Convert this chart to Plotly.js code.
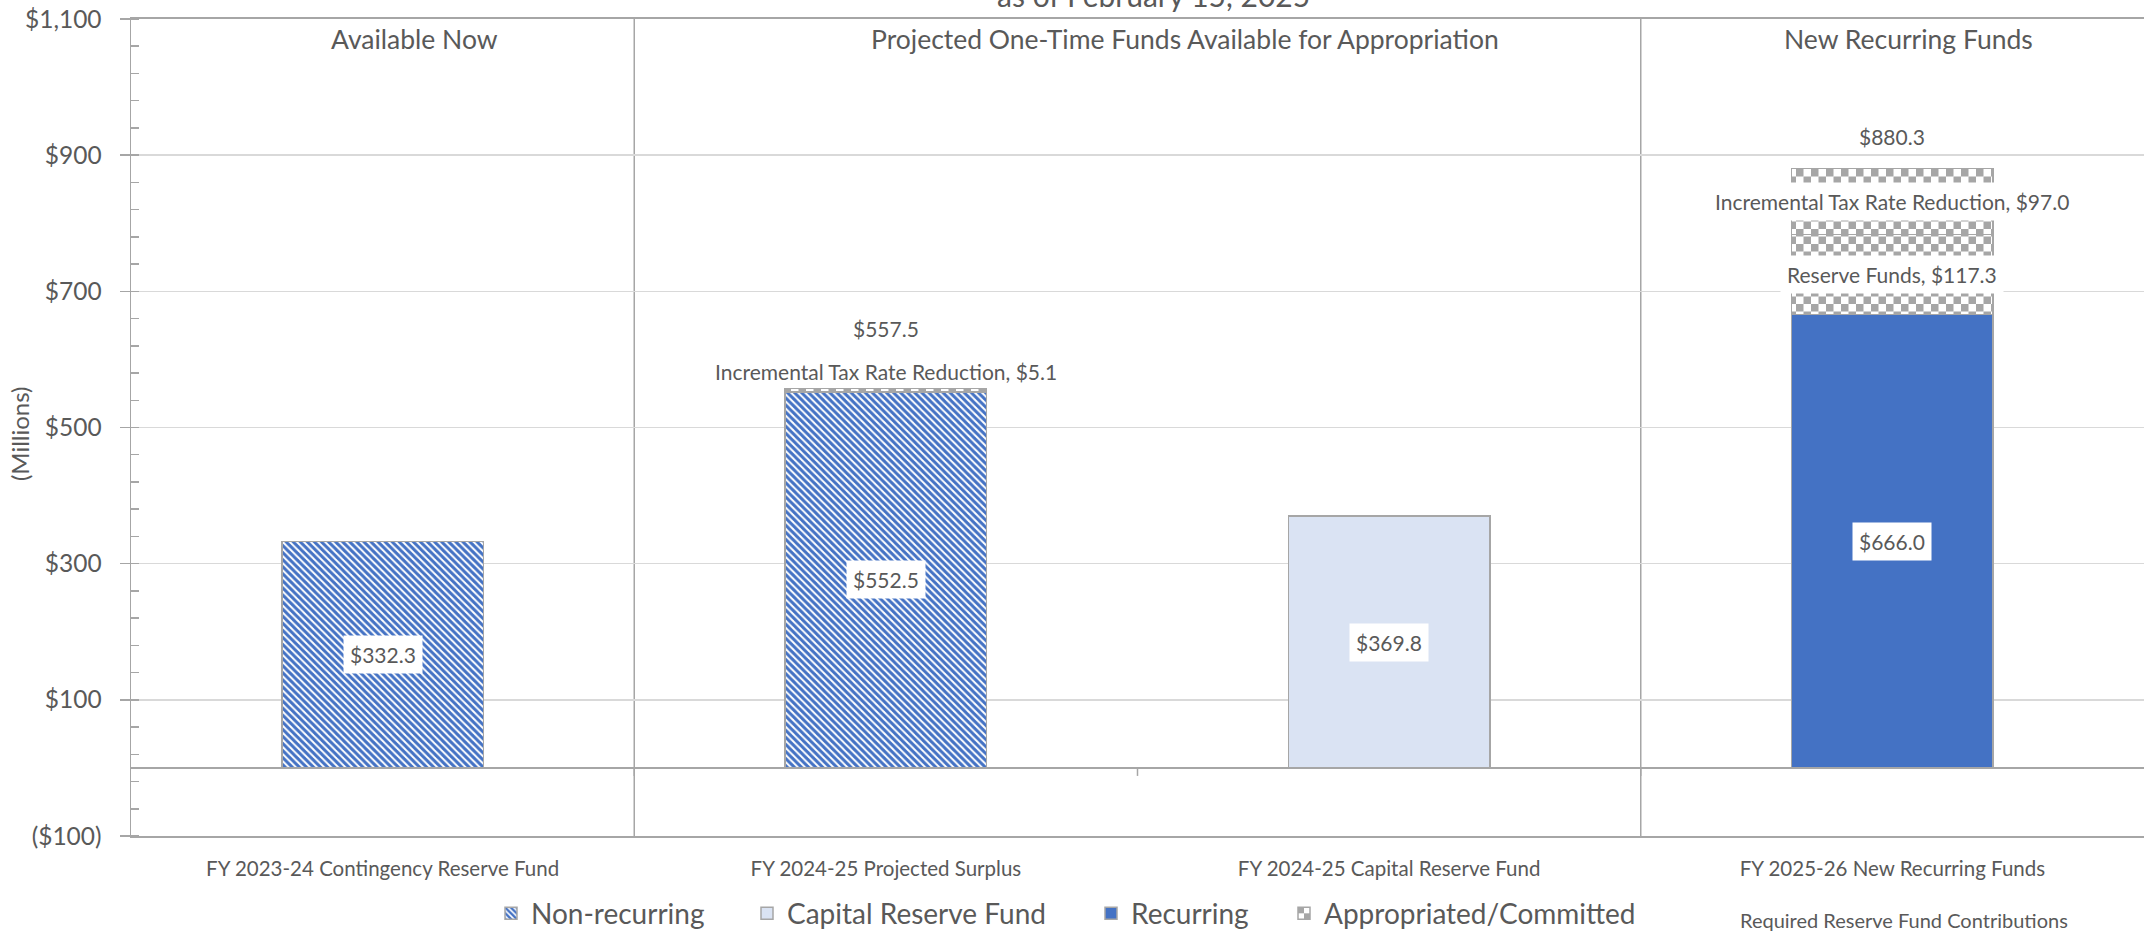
<!DOCTYPE html>
<html>
<head>
<meta charset="utf-8">
<script src="https://cdn.plot.ly/plotly-3.0.1.min.js"></script>
<style>
  html, body { margin: 0; padding: 0; background: #ffffff; }
  #chart { width: 2144px; height: 933px; }
</style>
</head>
<body>
<div id="chart"></div>
<script>
// ---------------- data ----------------
const categories = [
  'FY 2023-24 Contingency Reserve Fund',
  'FY 2024-25 Projected Surplus',
  'FY 2024-25 Capital Reserve Fund',
  'FY 2025-26 New Recurring Funds'
];
const nonRecurring      = [332.3, 552.5, null, null];
const capitalReserve    = [null, null, 369.8, null];
const recurring         = [null, null, null, 666.0];
const reserveFunds      = [null, null, null, 117.3];  // Appropriated/Committed
const incrementalTaxCut = [null, 5.1, null, 97.0];    // Appropriated/Committed
const totalLabels       = [null, 557.5, null, 880.3];
const groupLabels = ['Available Now', 'Projected One-Time Funds Available for Appropriation', 'New Recurring Funds'];
const yTickVals = [-100, 100, 300, 500, 700, 900, 1100];
const yTickText = ['($100)', '$100', '$300', '$500', '$700', '$900', '$1,100'];
const titleText = 'as of February 15, 2025';
const yTitleText = '(Millions)';
const extraLegendText = 'Required Reserve Fund Contributions';

// ---------------- style ----------------
const FONT = 'Lato, "Open Sans", sans-serif';
const TXT = '#595959';
const GRID = '#D9D9D9';
const AXIS = '#A6A6A6';
const BLUE = '#4472C4';
const LIGHT = '#DAE3F3';
const CHECK = '#A6A6A6';
const OUTLINE = { color: '#A6A6A6', width: 1.5 };
const Y_RANGE = [-100, 1100];
const M = { l: 131, r: 0, t: 19, b: 97, autoexpand: false };
const W = 2144, H = 933;
const PW = W - M.l - M.r, PH = H - M.t - M.b;
const pxPerUnit = PH / (Y_RANGE[1] - Y_RANGE[0]);

const hatch = { shape: '\\', fgcolor: BLUE, bgcolor: '#ffffff', size: 5, solidity: 0.6 };
const checker = { shape: '.', fgcolor: CHECK, bgcolor: '#ffffff', size: 10, solidity: 0.5 };

const seriesDefs = [
  { name: 'Non-recurring', values: nonRecurring, marker: { color: '#ffffff', pattern: hatch, line: OUTLINE }, legend: 'legend', showlegend: true, segName: null },
  { name: 'Capital Reserve Fund', values: capitalReserve, marker: { color: LIGHT, line: OUTLINE }, legend: 'legend2', showlegend: true, segName: null },
  { name: 'Recurring', values: recurring, marker: { color: BLUE, line: OUTLINE }, legend: 'legend3', showlegend: true, segName: null },
  { name: 'Appropriated/Committed', values: reserveFunds, marker: { color: '#ffffff', pattern: checker, line: OUTLINE }, legend: 'legend4', showlegend: true, segName: 'Reserve Funds' },
  { name: 'Appropriated/Committed', values: incrementalTaxCut, marker: { color: '#ffffff', pattern: checker, line: OUTLINE }, legend: 'legend4', showlegend: false, segName: 'Incremental Tax Rate Reduction' }
];

const fmt = v => '$' + v.toFixed(1);

const traces = seriesDefs.map(s => ({
  type: 'bar',
  x: categories,
  y: s.values,
  name: s.name,
  width: 0.4,
  marker: s.marker,
  legend: s.legend,
  legendgroup: s.name,
  showlegend: s.showlegend,
  hoverinfo: 'skip'
}));

// ---------------- labels ----------------
const annotations = [];
const base = categories.map(() => 0);
const outsideCount = categories.map(() => 0);
const labelFont = { family: FONT, size: 21, color: TXT };
seriesDefs.forEach(s => {
  s.values.forEach((v, i) => {
    if (v === null) return;
    const text = s.segName ? s.segName + ', ' + fmt(v) : fmt(v);
    const segPx = v * pxPerUnit;
    if (segPx > 30) {
      annotations.push({ x: categories[i], y: base[i] + v / 2, xref: 'x', yref: 'y', text: text,
        showarrow: false, font: labelFont, bgcolor: '#ffffff', borderpad: 6, yanchor: 'middle' });
    } else {
      outsideCount[i] += 1;
      annotations.push({ x: categories[i], y: base[i] + v, xref: 'x', yref: 'y', text: text,
        showarrow: false, font: labelFont, bgcolor: '#ffffff', borderpad: 3, yanchor: 'middle',
        yshift: 17 * outsideCount[i] });
    }
    base[i] += v;
  });
});
totalLabels.forEach((t, i) => {
  if (t === null) return;
  annotations.push({ x: categories[i], y: base[i], xref: 'x', yref: 'y', text: fmt(t),
    showarrow: false, font: labelFont, yanchor: 'middle', yshift: 32 + 28 * outsideCount[i] });
});

// group headers (secondary category level)
const groupX = [0.064, 1.594, 3.033];
groupLabels.forEach((g, k) => {
  annotations.push({ x: groupX[k], y: Y_RANGE[1], xref: 'x', yref: 'y', text: g, showarrow: false,
    font: { family: FONT, size: 26.5, color: TXT }, yanchor: 'middle', yshift: -20 });
});

// y-axis title
annotations.push({ x: -0.0556, y: 0.492, xref: 'paper', yref: 'paper', text: yTitleText, textangle: -90,
  showarrow: false, font: { family: FONT, size: 24, color: TXT }, xanchor: 'center', yanchor: 'middle' });

// extra legend-row text
annotations.push({ x: 0.881, y: -0.1028, xref: 'paper', yref: 'paper', text: extraLegendText,
  showarrow: false, font: { family: FONT, size: 20, color: TXT }, xanchor: 'center', yanchor: 'middle' });

// ---------------- separators ----------------
const shapes = [0.5, 2.5].map(xv => ({
  type: 'line', xref: 'x', yref: 'paper', x0: xv, x1: xv, y0: 0, y1: 1,
  line: { color: AXIS, width: 1.5 }, layer: 'below'
}));
[0.5, 1.5, 2.5].forEach(xv => shapes.push({
  type: 'line', xref: 'x', yref: 'y', ysizemode: 'pixel', yanchor: 0, x0: xv, x1: xv, y0: 0, y1: -8,
  line: { color: AXIS, width: 1.5 }, layer: 'below'
}));

const legendBase = { orientation: 'h', xref: 'paper', yref: 'paper', y: -0.095, yanchor: 'middle', xanchor: 'left',
  font: { family: FONT, size: 28, color: TXT }, bgcolor: 'rgba(0,0,0,0)', borderwidth: 0 };

const layout = {
  width: W, height: H,
  margin: M,
  paper_bgcolor: '#ffffff', plot_bgcolor: '#ffffff',
  barmode: 'stack',
  font: { family: FONT, color: TXT },
  title: { text: titleText, font: { family: FONT, size: 30, color: TXT }, xref: 'paper', x: 0.508, xanchor: 'center',
    yref: 'paper', y: 1, yanchor: 'bottom', pad: { b: 12 } },
  xaxis: {
    type: 'category', categoryorder: 'array', categoryarray: categories,
    showgrid: false, zeroline: false,
    showline: true, mirror: true, linecolor: AXIS, linewidth: 2,
    ticks: '', ticklabelstandoff: 13,
    tickfont: { family: FONT, size: 20.5, color: TXT },
    automargin: false,
    fixedrange: true
  },
  yaxis: {
    range: Y_RANGE, tickmode: 'array', tickvals: yTickVals, ticktext: yTickText,
    showgrid: true, gridcolor: GRID, gridwidth: 1.5,
    zeroline: true, zerolinecolor: AXIS, zerolinewidth: 2,
    showline: true, linecolor: AXIS, linewidth: 1.5, mirror: false,
    ticks: 'outside', ticklen: 10, tickwidth: 1.5, tickcolor: AXIS,
    minor: { tickmode: 'linear', tick0: -100, dtick: 40, ticks: 'inside', ticklen: 8, tickwidth: 1.5, tickcolor: AXIS, showgrid: false },
    ticklabelstandoff: 13,
    tickfont: { family: FONT, size: 24.5, color: TXT },
    automargin: false,
    fixedrange: true
  },
  legend:  Object.assign({}, legendBase, { x: (491 - M.l) / PW }),
  legend2: Object.assign({}, legendBase, { x: (747 - M.l) / PW }),
  legend3: Object.assign({}, legendBase, { x: (1091 - M.l) / PW }),
  legend4: Object.assign({}, legendBase, { x: (1284 - M.l) / PW }),
  annotations: annotations,
  shapes: shapes,
  showlegend: true
};

// Turn the dotted fill of the Appropriated/Committed bars into a checkerboard texture.
function checkerize(gd) {
  const NS = 'http://www.w3.org/2000/svg';
  gd.querySelectorAll('pattern').forEach(p => {
    if (!p.querySelector('circle')) return;
    const s = 15, h = s / 2;
    p.setAttribute('width', s);
    p.setAttribute('height', s);
    while (p.firstChild) p.removeChild(p.firstChild);
    const add = (x, y, w, hh, fill) => {
      const r = document.createElementNS(NS, 'rect');
      r.setAttribute('x', x); r.setAttribute('y', y);
      r.setAttribute('width', w); r.setAttribute('height', hh);
      r.setAttribute('fill', fill);
      p.appendChild(r);
    };
    add(0, 0, s, s, '#ffffff');
    add(0, 0, h, h, CHECK);
    add(h, h, h, h, CHECK);
  });
}

Plotly.newPlot('chart', traces, layout, { displayModeBar: false, staticPlot: true }).then(checkerize);
</script>
</body>
</html>
